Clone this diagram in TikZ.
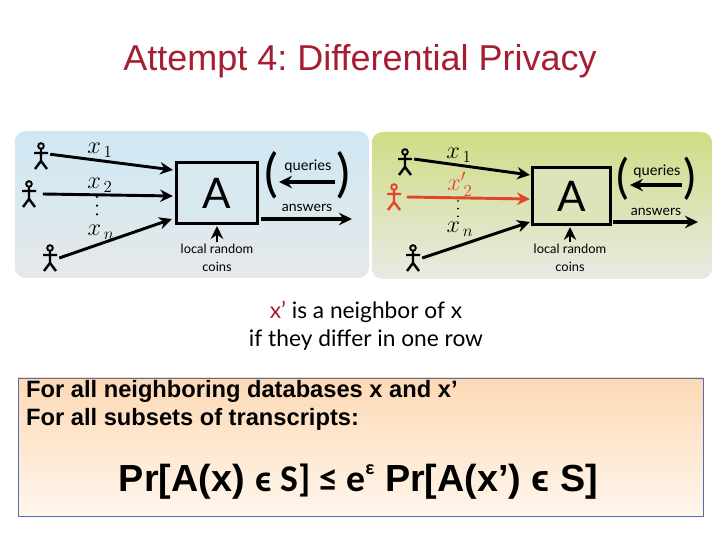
\documentclass[tikz,border=0pt]{standalone}
\usepackage{fontspec}
\setmainfont{Liberation Sans}
\newfontfamily\gill{Lato}
\newfontfamily\cand{Carlito}
\usetikzlibrary{arrows.meta,shadows}
\definecolor{titlered}{RGB}{165,30,50}
\definecolor{crowdred}{RGB}{225,70,40}
\definecolor{skytop}{RGB}{207,232,243}
\definecolor{skybot}{RGB}{230,232,234}
\definecolor{limetop}{RGB}{207,221,133}
\definecolor{limebot}{RGB}{232,234,229}
\definecolor{peachtop}{RGB}{253,217,181}
\definecolor{peachbot}{RGB}{255,246,236}
\definecolor{edgeblue}{RGB}{80,110,180}
\tikzset{
  flow/.style={line width=2.5pt, -{Stealth[length=11pt,width=10.5pt]}},
  algbox/.style={draw=black, line width=2.5pt, minimum width=2.43cm, minimum height=1.83cm, inner sep=0pt, font=\gill\fontsize{36}{36}\selectfont, drop shadow={opacity=.35, shadow xshift=.6pt, shadow yshift=-.8pt}},
  small/.style={font=\gill\fontsize{11}{15}\selectfont, align=center, inner sep=0pt},
  xlabel/.style={inner sep=0pt, font=\fontsize{20}{20}\selectfont},
  paren/.style={inner sep=0pt, font=\gill\fontsize{44}{44}\selectfont},
  figure/.style={inner sep=0pt, minimum width=0.54cm, minimum height=0.81cm},
  dots3/.style={line width=2pt, line cap=round, dash pattern=on 0pt off 7.4pt},
}
% stick figure: name, x, y, colour
\newcommand{\stick}[4]{
  \node[figure] (#1) at (#2,#3) {};
  \draw[#4, line width=1.6pt] (#2,#3-10) circle (2.8);
  \draw[#4, line width=2.1pt] (#2,#3-7) -- (#2,#3+5) -- (#2-6,#3+13) (#2,#3+5) -- (#2+6,#3+13) (#2-7,#3-3) -- (#2+7,#3-3);
}
\begin{document}
\begin{tikzpicture}[x=0.03cm, y=-0.03cm]
\useasboundingbox (0,0) rectangle (720,540);
\fill[white] (0,0) rectangle (720,540);
\node[text=titlered, font=\fontsize{30.7}{32}\selectfont, inner sep=0pt] (title) at (360,61) {\frenchspacing Attempt 4: Differential Privacy};
% panels
\shade[top color=skytop, bottom color=skybot, rounded corners=9pt] (15,131) rectangle (369,278);
\shade[top color=limetop, bottom color=limebot, rounded corners=9pt] (372,132) rectangle (712,279);
% left panel
\node[algbox, fill=skytop!60!skybot] (A) at (217,193) {A};
\stick{p1}{41}{156}{black}
\stick{p2}{29}{194}{black}
\stick{p3}{50}{258}{black}
\coordinate (in1) at (173,170);
\coordinate (in2) at (173,196);
\coordinate (in3) at (172,219);
\coordinate (qs) at (335,182);
\coordinate (qe) at (279,182);
\coordinate (ae) at (352,219);
\coordinate (as) at (261,219);
\coordinate (cs) at (217,242);
\coordinate (ce) at (217,226);
\draw[flow] ([yshift=1.5pt]p1.east) -- (in1);
\draw[flow] ([xshift=4pt]p2.east) -- (in2);
\draw[flow] (p3.east) -- (in3);
\draw[flow, line width=2.9pt] (qs) -- (qe);
\draw[flow, line width=2.9pt] (as) -- (ae);
\draw[flow] (cs) -- (ce);
\node[xlabel] (l1) at (100,150) {$x_{\,1}$};
\node[xlabel] (l2) at (100,185) {$x_{\,2}$};
\node[xlabel] (l3) at (101,232) {$x_{\,n}$};
\draw[dots3] (97,197) -- (97,218);
\node[small, font=\gill\fontsize{12.5}{15}\selectfont] (q) at (308,166) {queries};
\node[small, font=\gill\fontsize{12}{15}\selectfont] (ans) at (307,208) {answers};
\node[small] (coins) at (217,258) {local random\\coins};
\node[paren] (lp) at (271,175) {(};
\node[paren] (rp) at (343,175) {)};
% right panel
\node[algbox, fill=limetop!45!limebot, minimum width=2.34cm, minimum height=1.71cm] (B) at (571.5,196) {A};
\stick{r1}{405}{162}{black}
\stick{r2}{394}{197}{crowdred}
\stick{r3}{413}{258}{black}
\coordinate (bin1) at (530,175);
\coordinate (bin2) at (530,199);
\coordinate (bin3) at (530,222);
\coordinate (bqs) at (682,185);
\coordinate (bqe) at (630,185);
\coordinate (bae) at (698,222);
\coordinate (bas) at (613,222);
\coordinate (bcs) at (570,242);
\coordinate (bce) at (570,227);
\draw[flow] ([yshift=2.5pt]r1.east) -- (bin1);
\draw[flow, crowdred] ([xshift=3pt]r2.east) -- (bin2);
\draw[flow] (r3.east) -- (bin3);
\draw[flow, line width=2.9pt] (bqs) -- (bqe);
\draw[flow, line width=2.9pt] (bas) -- (bae);
\draw[flow] (bcs) -- (bce);
\node[xlabel] (m1) at (459,155) {$x_{\,1}$};
\node[xlabel, text=crowdred] (m2) at (460,184) {$x'_{\,2}$};
\node[xlabel] (m3) at (460,229) {$x_{\,n}$};
\draw[dots3, line width=1.7pt, dash pattern=on 0pt off 6.6pt] (458,201) -- (458,218);
\node[small, font=\gill\fontsize{12.5}{15}\selectfont] (bq) at (657,171) {queries};
\node[small, font=\gill\fontsize{12}{15}\selectfont] (bans) at (656,212) {answers};
\node[small] (bcoins) at (570,258) {local random\\coins};
\node[paren, font=\gill\fontsize{40}{40}\selectfont] (blp) at (623,179) {(};
\node[paren, font=\gill\fontsize{40}{40}\selectfont] (brp) at (690,179) {)};
% neighbor text
\node[font=\gill\fontsize{19.4}{23.9}\selectfont, align=center, inner sep=0pt] (nb) at (366,326) {\textcolor{titlered}{x’} is a neighbor of x\\if they differ in one row};
% bottom box
\shade[top color=peachtop, bottom color=peachbot] (18,378) rectangle (703,516);
\draw[edgeblue, line width=0.7pt] (18,378) rectangle (703,516);
\node[anchor=west, font=\fontsize{20.2}{23.9}\selectfont\bfseries, align=left, inner sep=0pt] (forall) at (26,405) {For all neighboring databases x and x’\\For all subsets of transcripts:};
\node[font=\fontsize{32.2}{34}\selectfont\bfseries, inner sep=0pt] (pr) at (358.5,482) {Pr[A(x) {\cand ϵ S] ≤ e\raisebox{.45em}{\fontsize{17}{17}\selectfont ε}} Pr[A(x’) ϵ S]};
\end{tikzpicture}
\end{document}
